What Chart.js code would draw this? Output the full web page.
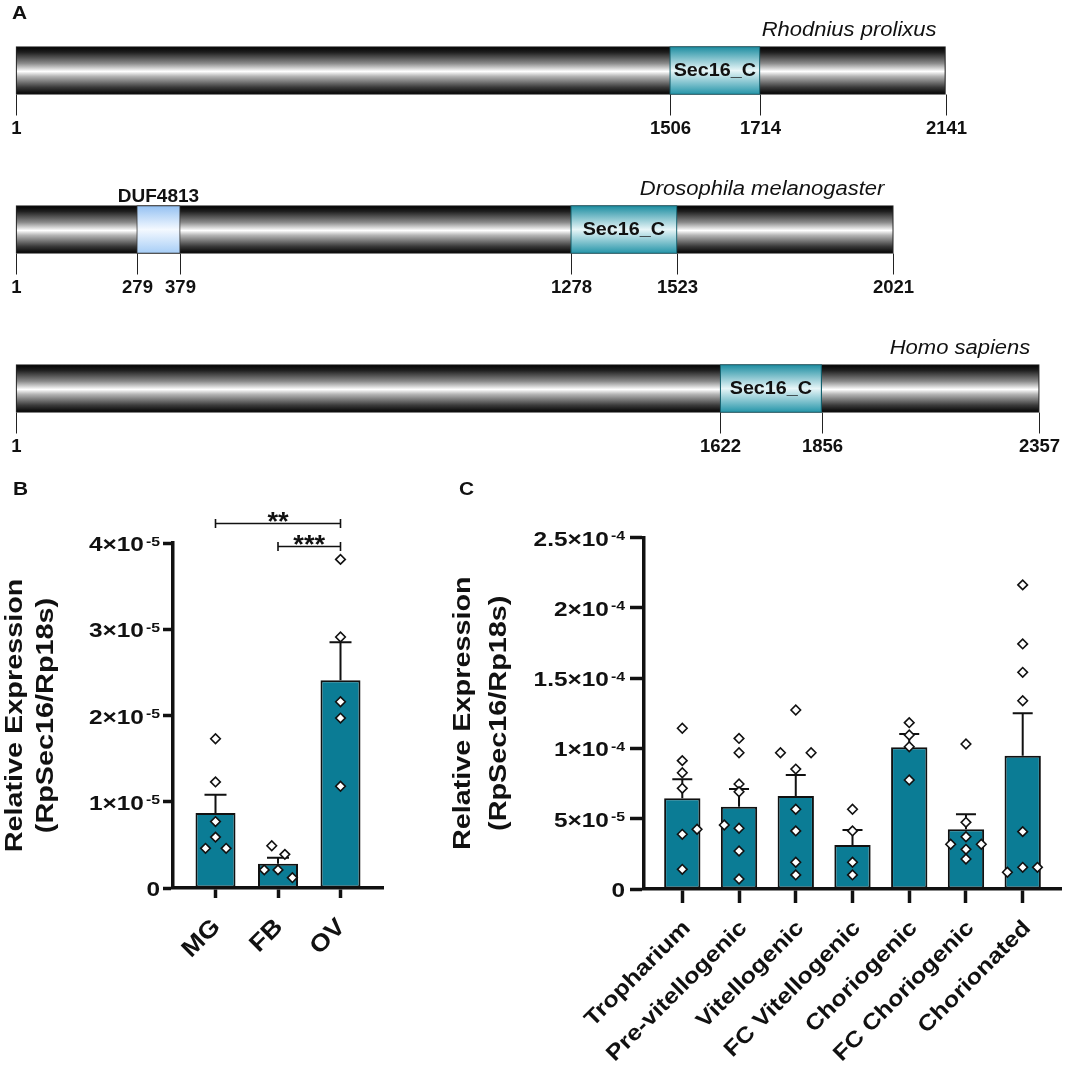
<!DOCTYPE html>
<html>
<head>
<meta charset="utf-8">
<script src="https://cdn.jsdelivr.net/npm/chart.js@4.4.1/dist/chart.umd.min.js"></script>
<style>
  body { margin: 0; background: #fff; }
  #fig { position: relative; width: 1065px; height: 1069px; overflow: hidden; background: #fff; }
  canvas { position: absolute; }
</style>
</head>
<body>
<div id="fig">
  <canvas id="chartA" width="1065" height="470" style="left:0;top:0"></canvas>
  <canvas id="chartB" width="420" height="599" style="left:0;top:470px"></canvas>
  <canvas id="chartC" width="645" height="599" style="left:420px;top:470px"></canvas>
</div>
<script>
// ---- panel A: Sec16 domain architecture ----
const species = ['Rhodnius prolixus', 'Drosophila melanogaster', 'Homo sapiens'];
const proteinLength = [2141, 2021, 2357];
const sec16Start = [1506, 1278, 1622];
const sec16End = [1714, 1523, 1856];
const dufStart = [null, 279, null];
const dufEnd = [null, 379, null];

// ---- panel B: tissues ----
const tissues = ['MG', 'FB', 'OV'];
const tissueMean = [0.87e-5, 0.28e-5, 2.41e-5];
const tissueSem = [0.21e-5, 0.07e-5, 0.44e-5];
const tissuePoints = [
  [1.73e-5, 1.23e-5, 0.77e-5, 0.59e-5, 0.46e-5, 0.46e-5],
  [0.49e-5, 0.39e-5, 0.21e-5, 0.21e-5, 0.12e-5],
  [3.81e-5, 2.91e-5, 2.16e-5, 1.97e-5, 1.18e-5]
];
// horizontal spread of the dots, in category units
const tissueJitter = [
  [0, 0, 0, 0, -0.16, 0.17],
  [-0.1, 0.11, -0.22, 0, 0.23],
  [0, 0, 0, 0, 0]
];
const tissueTicks = [0, 1e-5, 2e-5, 3e-5, 4e-5];
const tissueSig = [[0, 2, '**', 4.23e-5], [1, 2, '***', 3.96e-5]];

// ---- panel C: ovary stages ----
const stages = ['Tropharium', 'Pre-vitellogenic', 'Vitellogenic', 'FC Vitellogenic', 'Choriogenic', 'FC Choriogenic', 'Chorionated'];
const stageMean = [6.45e-5, 5.85e-5, 6.61e-5, 3.13e-5, 10.08e-5, 4.25e-5, 9.48e-5];
const stageSem = [1.35e-5, 1.26e-5, 1.50e-5, 1.07e-5, 0.94e-5, 1.06e-5, 3.02e-5];
const stagePoints = [
  [11.43e-5, 9.13e-5, 8.27e-5, 7.16e-5, 4.25e-5, 3.89e-5, 1.40e-5],
  [10.71e-5, 9.69e-5, 7.47e-5, 6.92e-5, 4.55e-5, 4.32e-5, 2.70e-5, 0.71e-5],
  [12.73e-5, 9.69e-5, 9.69e-5, 8.53e-5, 5.67e-5, 4.13e-5, 1.90e-5, 1.00e-5],
  [5.67e-5, 4.13e-5, 1.90e-5, 1.00e-5],
  [11.83e-5, 10.95e-5, 10.12e-5, 7.75e-5],
  [10.31e-5, 4.74e-5, 3.72e-5, 3.18e-5, 3.18e-5, 2.82e-5, 2.13e-5],
  [21.63e-5, 17.43e-5, 15.41e-5, 13.39e-5, 4.08e-5, 1.54e-5, 1.54e-5, 1.19e-5]
];
const stageJitter = [
  [0, 0, 0, 0, 0.26, 0, 0],
  [0, 0, 0, 0, -0.26, 0, 0, 0],
  [0, -0.27, 0.27, 0, 0, 0, 0, 0],
  [0, 0, 0, 0],
  [0, 0, 0, 0],
  [0, 0, 0, -0.27, 0.27, 0, 0],
  [0, 0, 0, 0, 0, 0, 0.26, -0.27]
];
const stageTicks = [0, 5e-5, 10e-5, 15e-5, 20e-5, 25e-5];

const FONT = '"Liberation Sans", Arial, Helvetica, sans-serif';
Chart.defaults.font.family = FONT;
Chart.defaults.color = '#111';

const BAR_H = 48;
const GRAY_STOPS = [[0, '#000'], [0.12, '#1e1e1e'], [0.35, '#8a8a8a'], [0.52, '#ffffff'], [0.62, '#b5b5b5'], [0.85, '#3a3a3a'], [1, '#000']];
const SEC_STOPS = [[0, '#1a8ca0'], [0.5, '#e8f6f8'], [1, '#2394a8']];
const DUF_STOPS = [[0, '#93c0f2'], [0.5, '#f4f9ff'], [1, '#a6cdf6']];

// draw text, optionally rotated and stretched along the reading direction
function txt(ctx, s, x, y, font, align, k, rot) {
  ctx.save();
  ctx.translate(x, y);
  if (rot) ctx.rotate(rot);
  ctx.scale(k || 1, 1);
  ctx.font = font;
  ctx.textAlign = align;
  ctx.textBaseline = 'alphabetic';
  ctx.fillStyle = '#111';
  ctx.fillText(s, 0, 0);
  ctx.restore();
}
function textW(ctx, s, font, k) {
  ctx.save();
  ctx.font = font;
  const w = ctx.measureText(s).width * (k || 1);
  ctx.restore();
  return w;
}

function grad(c, stops) {
  const ch = c.chart;
  if (c.type !== 'data' || !ch.chartArea) return stops[1][1];
  const yc = ch.scales.y.getPixelForValue(c.dataIndex);
  const g = ch.ctx.createLinearGradient(0, yc - BAR_H / 2, 0, yc + BAR_H / 2);
  stops.forEach(s => g.addColorStop(s[0], s[1]));
  return g;
}

const archPlugin = {
  id: 'arch',
  afterDatasetsDraw(chart) {
    const { ctx } = chart;
    const x = chart.scales.x, y = chart.scales.y;
    species.forEach((sp, i) => {
      const yc = y.getPixelForValue(i);
      const top = yc - BAR_H / 2, bot = yc + BAR_H / 2;
      const marks = [1, sec16Start[i], sec16End[i], proteinLength[i]];
      if (dufStart[i] != null) marks.push(dufStart[i], dufEnd[i]);
      marks.forEach(v => {
        const px = Math.round(x.getPixelForValue(v)) + 0.5;
        ctx.save();
        ctx.strokeStyle = '#222';
        ctx.lineWidth = 1;
        ctx.beginPath();
        ctx.moveTo(px, bot);
        ctx.lineTo(px, bot + 21);
        ctx.stroke();
        ctx.restore();
        txt(ctx, String(v), px, bot + 39, 'bold 18px ' + FONT, 'center', 1.03);
      });
      txt(ctx, sp, x.getPixelForValue(proteinLength[i]) - 9, top - 11, 'italic 20px ' + FONT, 'right', 1.1);
      const sx = (x.getPixelForValue(sec16Start[i]) + x.getPixelForValue(sec16End[i])) / 2;
      txt(ctx, 'Sec16_C', sx, yc + 5, 'bold 19px ' + FONT, 'center', 1.04);
      if (dufStart[i] != null) {
        const dx = (x.getPixelForValue(dufStart[i]) + x.getPixelForValue(dufEnd[i])) / 2;
        txt(ctx, 'DUF4813', dx, top - 4, 'bold 19px ' + FONT, 'center', 1.0);
      }
    });
    txt(ctx, 'A', 12, 18.5, 'bold 19px ' + FONT, 'left', 1.1);
  }
};

const barCommon = { grouped: false, barThickness: BAR_H, borderSkipped: false, clip: false };
new Chart(document.getElementById('chartA'), {
  type: 'bar',
  data: {
    labels: species,
    datasets: [
      Object.assign({ label: 'DUF4813', data: dufStart.map((s, i) => s == null ? null : [s, dufEnd[i]]),
        backgroundColor: c => grad(c, DUF_STOPS), borderColor: '#333', borderWidth: 1 }, barCommon),
      Object.assign({ label: 'Sec16_C', data: sec16Start.map((s, i) => [s, sec16End[i]]),
        backgroundColor: c => grad(c, SEC_STOPS), borderColor: '#155f6c', borderWidth: 1.2 }, barCommon),
      Object.assign({ label: 'Sec16', data: proteinLength.map(l => [1, l]),
        backgroundColor: c => grad(c, GRAY_STOPS), borderColor: '#222', borderWidth: 1.2 }, barCommon)
    ]
  },
  options: {
    indexAxis: 'y',
    responsive: false,
    animation: false,
    devicePixelRatio: 1,
    layout: { autoPadding: false, padding: { left: 16, right: 7, top: 70.5, bottom: 81.5 } },
    plugins: { legend: { display: false }, tooltip: { enabled: false } },
    scales: {
      x: { type: 'linear', min: 1, max: 2400, display: false },
      y: { type: 'category', offset: false, display: false }
    }
  },
  plugins: [archPlugin]
});

// ---- panels B and C ----
const TICK_BASE = 'bold 20px ' + FONT;
const TICK_SUP = 'bold 13px ' + FONT;
const TICK_K = 1.22;

const exprPlugin = {
  id: 'expr',
  afterDatasetDraw(chart, args, s) {
    if (args.index !== 1) return;
    const { ctx } = chart;
    const y = chart.scales.y;
    const bars = chart.data.datasets[1].data;
    ctx.save();
    ctx.strokeStyle = '#111';
    ctx.lineWidth = 2;
    chart.getDatasetMeta(1).data.forEach((bar, i) => {
      const top = y.getPixelForValue(bars[i].y + s.sem[i]);
      ctx.beginPath();
      ctx.moveTo(bar.x, bar.y);
      ctx.lineTo(bar.x, top);
      ctx.moveTo(bar.x - s.capW / 2, top);
      ctx.lineTo(bar.x + s.capW / 2, top);
      ctx.stroke();
    });
    ctx.restore();
  },
  afterDraw(chart, args, s) {
    const { ctx, chartArea: area } = chart;
    const x = chart.scales.x, y = chart.scales.y;
    // y tick labels, n×10^-e
    y.ticks.forEach(t => {
      const py = y.getPixelForValue(t.value);
      const xr = area.left - s.tick - s.gap;
      if (t.value === 0) {
        txt(ctx, '0', xr, py + 7.5, TICK_BASE, 'right', TICK_K);
        return;
      }
      const e = Math.floor(Math.log10(t.value) + 1e-9);
      const m = +(t.value / Math.pow(10, e)).toFixed(1);
      const sup = '-' + Math.abs(e);
      const supW = textW(ctx, sup, TICK_SUP, TICK_K);
      txt(ctx, sup, xr, py + 2.5, TICK_SUP, 'right', TICK_K);
      txt(ctx, m + '×10', xr - supW - 2, py + 8, TICK_BASE, 'right', TICK_K);
    });
    // rotated category labels
    x.ticks.forEach(t => {
      const px = x.getPixelForValue(t.value);
      txt(ctx, s.cats[t.value], px + s.labelDx, area.bottom + 40, s.labelFont, 'right', s.labelK, -Math.PI / 4);
    });
    // axis title
    const yc = (area.top + area.bottom) / 2;
    txt(ctx, 'Relative Expression', area.left + s.title[0], yc, 'bold 24px ' + FONT, 'center', 1.2, -Math.PI / 2);
    txt(ctx, '(RpSec16/Rp18s)', area.left + s.title[1], yc, 'bold 24px ' + FONT, 'center', 1.2, -Math.PI / 2);
    // significance brackets
    (s.sig || []).forEach(([a, b, stars, v]) => {
      const x1 = x.getPixelForValue(a), x2 = x.getPixelForValue(b), py = Math.round(y.getPixelForValue(v)) + 0.5;
      ctx.save();
      ctx.strokeStyle = '#111';
      ctx.lineWidth = 1.6;
      ctx.beginPath();
      ctx.moveTo(x1, py); ctx.lineTo(x2, py);
      ctx.moveTo(x1, py - 4.5); ctx.lineTo(x1, py + 4.5);
      ctx.moveTo(x2, py - 4.5); ctx.lineTo(x2, py + 4.5);
      ctx.stroke();
      ctx.restore();
      txt(ctx, stars, (x1 + x2) / 2, py + 6, 'bold 26px ' + FONT, 'center', 1.05);
    });
    txt(ctx, s.letter, s.letterX, 25, 'bold 19px ' + FONT, 'left', 1.1);
  }
};

function expressionChart(id, cats, mean, sem, pts, jit, ticks, s) {
  const dots = [];
  pts.forEach((arr, i) => arr.forEach((v, j) => dots.push({ x: i + jit[i][j], y: v })));
  const axisGrid = { display: true, drawOnChartArea: false, drawTicks: true, tickLength: s.tick, tickWidth: 3.5, tickColor: '#111', offset: false };
  const axisBorder = { display: true, width: 3.5, color: '#111' };
  return new Chart(document.getElementById(id), {
    type: 'bar',
    data: {
      datasets: [
        { type: 'scatter', data: dots, pointStyle: 'rectRot', pointRadius: 4.8, borderWidth: 1.6,
          borderColor: '#111', backgroundColor: '#fff', clip: false },
        { type: 'bar', data: mean.map((v, i) => ({ x: i, y: v })), backgroundColor: '#0b7c95',
          borderColor: '#111', borderWidth: 2, borderSkipped: false, barPercentage: 0.64, categoryPercentage: 1 }
      ]
    },
    options: {
      responsive: false,
      animation: false,
      devicePixelRatio: 1,
      layout: { autoPadding: false, padding: s.pad },
      plugins: {
        legend: { display: false },
        tooltip: { enabled: false },
        expr: Object.assign({ sem: sem, cats: cats }, s)
      },
      scales: {
        x: {
          type: 'linear', min: s.xmin, max: s.xmax, offset: false,
          afterBuildTicks: sc => { sc.ticks = cats.map((c, i) => ({ value: i })); },
          ticks: { display: false }, grid: axisGrid, border: axisBorder
        },
        y: {
          type: 'linear', min: 0, max: ticks[ticks.length - 1], offset: false,
          afterBuildTicks: sc => { sc.ticks = ticks.map(v => ({ value: v })); },
          ticks: { display: false }, grid: axisGrid, border: axisBorder
        }
      }
    },
    plugins: [exprPlugin]
  });
}

expressionChart('chartB', tissues, tissueMean, tissueSem, tissuePoints, tissueJitter, tissueTicks, {
  pad: { left: 163, right: 37, top: 73, bottom: 171 },
  xmin: -0.68, xmax: 2.68, tick: 10, gap: 3, capW: 22,
  labelDx: 6, labelK: 1.12, labelFont: 'bold 24px ' + FONT, title: [-151, -120],
  sig: tissueSig, letter: 'B', letterX: 13
});
expressionChart('chartC', stages, stageMean, stageSem, stagePoints, stageJitter, stageTicks, {
  pad: { left: 210, right: 4, top: 67.5, bottom: 166 },
  xmin: -0.675, xmax: 6.675, tick: 14, gap: 5, capW: 20,
  labelDx: 9, labelK: 1.15, labelFont: 'bold 22px ' + FONT, title: [-174, -138],
  sig: null, letter: 'C', letterX: 39
});
</script>
</body>
</html>
